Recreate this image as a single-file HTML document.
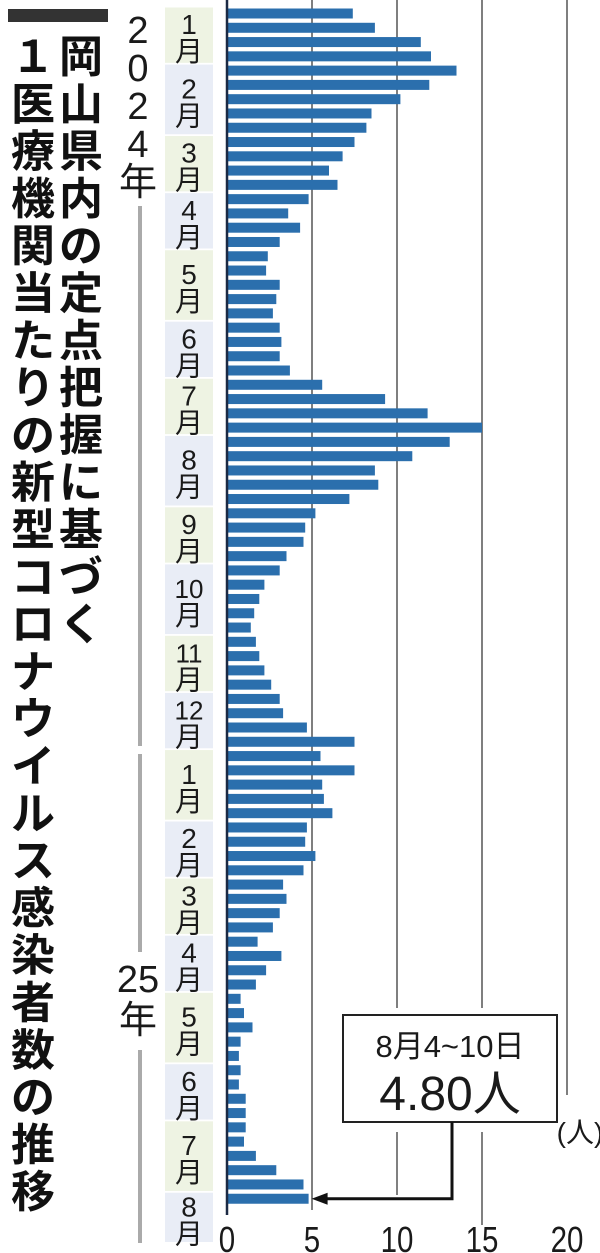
<!DOCTYPE html>
<html><head><meta charset="utf-8">
<style>
html,body{margin:0;padding:0;background:#fff;}
svg{display:block;}
text{font-family:"Liberation Sans","Noto Sans CJK JP",sans-serif;fill:#1a1a1a;}
.title{font-family:"Liberation Sans","Noto Sans CJK JP",sans-serif;font-weight:bold;font-size:44px;fill:#111;}
</style></head>
<body>
<svg id="chart" width="600" height="1253" viewBox="0 0 600 1253" xmlns="http://www.w3.org/2000/svg">
  <rect x="8" y="9" width="100" height="13" fill="#333"/>
  <g id="titleG"></g>
  <g id="yearG"></g>
  <g id="monthG"></g>
  <g id="gridG"></g>
  <g id="barG"></g>
  <g id="axisG"></g>
  <g id="calloutG"></g>
</svg>
<script>
const values2024 = [7.4,8.7,11.4,12.0,13.5,11.9,10.2,8.5,8.2,7.5,6.8,6.0,6.5,4.8,3.6,4.3,3.1,2.4,2.3,3.1,2.9,2.7,3.1,3.2,3.1,3.7,5.6,9.3,
 11.8,15.0,13.1,10.9,8.7,8.9,7.2,5.2,4.6,4.5,3.5,3.1,2.2,1.9,1.6,1.4,1.7,1.9,2.2,2.6,3.1,3.3,4.7,7.5];
const values2025 = [5.5,7.5,5.6,5.7,6.2,4.7,4.6,5.2,4.5,3.3,3.5,3.1,2.7,1.8,3.2,2.3,1.7,0.8,1.0,1.5,0.8,0.7,0.8,0.7,1.1,1.1,1.1,1.0,1.7,2.9,4.5,4.8];
const xTicks = [0,5,10,15,20];
const calloutLabel = "8月4~10日";
const calloutValue = "4.80人";

const NS = "http://www.w3.org/2000/svg";
const values = values2024.concat(values2025);
const X0 = 227, PX = 17, Y0 = 8.5, STEP = 14.28, BH = 10;
const xs = v => X0 + v * PX;
const yb = i => Y0 + i * STEP;
function mk(tag, attrs, parent, txt){
  const e = document.createElementNS(NS, tag);
  for (const k in attrs) e.setAttribute(k, attrs[k]);
  if (txt !== undefined) e.textContent = txt;
  parent.appendChild(e); return e;
}

// title
const tg = document.getElementById('titleG');
const col1 = "岡山県内の定点把握に基づく", col2 = "1医療機関当たりの新型コロナウイルス感染者数の推移";
[...col1].forEach((c,i)=>{ const t=mk('text',{x:81,y:72+i*47.3,'text-anchor':'middle','class':'title'},tg,c);
    });
[...col2].forEach((c,i)=>{ const t=mk('text',{x:33,y:72+i*47.3,'text-anchor':'middle','class':'title'},tg,c==='1'?'１':c);
    });

// year labels
const yg = document.getElementById('yearG');
["2","0","2","4","年"].forEach((c,i)=>{ const t=mk('text',{x:138,y:43+i*38,'text-anchor':'middle','font-size':38},yg,c);
    });
const l1=mk('line',{x1:140,y1:206,x2:140,y2:746,stroke:'#aaa','stroke-width':4},yg);
 
const l2=mk('line',{x1:140,y1:754,x2:140,y2:952,stroke:'#aaa','stroke-width':4},yg);
 
const l3=mk('line',{x1:140,y1:1050,x2:140,y2:1243,stroke:'#aaa','stroke-width':4},yg);
 
const t25=mk('text',{x:138,y:992,'text-anchor':'middle','font-size':38},yg,"25");
 
const t25b=mk('text',{x:138,y:1033,'text-anchor':'middle','font-size':38},yg,"年");
 

// months
const mg = document.getElementById('monthG');
const start = new Date(2024,0,1);
const groups = [];
values.forEach((v,i)=>{
  const d = new Date(start.getTime() + (i*7+3)*86400000);
  const key = d.getFullYear()+'-'+d.getMonth();
  if (!groups.length || groups[groups.length-1].key !== key) groups.push({key, m:d.getMonth()+1, a:i, b:i});
  else groups[groups.length-1].b = i;
});
groups.forEach((g,gi)=>{
  const top = yb(g.a) - 2;
  let bot = yb(g.b) + BH + 2.5;
  if (gi === groups.length-1) bot = 1243;
  const r = mk('rect',{x:165,y:top+1,width:48,height:bot-top-2,fill: gi%2===0 ? '#eef3e3' : '#e9edf6'},mg);
   
  const cy = (top+bot)/2;
  const n = mk('text',{x:189,y:cy-1,'text-anchor':'middle','font-size':g.m>9?26:28},mg,String(g.m));
   
  const m = mk('text',{x:189,y:cy+26,'text-anchor':'middle','font-size':28},mg,"月");
   
});

// grid
const gg = document.getElementById('gridG');
const gridEnds = {5:1210,10:1195,15:1225,20:1095};
xTicks.slice(1).forEach(v=>{
  if (v===10 || v===15){
    const a=mk('line',{x1:xs(v),y1:0,x2:xs(v),y2:1008,stroke:'#555','stroke-width':1.5},gg);
     
    const b=mk('line',{x1:xs(v),y1:1132,x2:xs(v),y2:gridEnds[v],stroke:'#555','stroke-width':1.5},gg);
     
  } else {
    const a=mk('line',{x1:xs(v),y1:0,x2:xs(v),y2:gridEnds[v],stroke:'#555','stroke-width':1.5},gg);
     
  }
});

// bars
const bg = document.getElementById('barG');
values.forEach((v,i)=>{
  const r = mk('rect',{x:X0,y:yb(i),width:v*PX,height:BH,fill:'#2b6fad'},bg);
   
});

// axis
const ag = document.getElementById('axisG');
const al = mk('line',{x1:X0,y1:0,x2:X0,y2:1215,stroke:'#1c2a44','stroke-width':2.5},ag);
 
xTicks.forEach(v=>{
  const t = mk('text',{x:xs(v),y:1252,'text-anchor':'middle','font-size':36,transform:`translate(${xs(v)},0) scale(0.82,1) translate(${-xs(v)},0)`},ag,String(v));
   
});
const unit = mk('text',{x:580,y:1142,'text-anchor':'middle','font-size':28},ag,"(人)");
 

// callout
const cg = document.getElementById('calloutG');
const lastI = values.length-1;
const ay = yb(lastI) + BH/2;
const box = mk('rect',{x:343,y:1015,width:214,height:107,fill:'#fff',stroke:'#222','stroke-width':2},cg);
 
const ct1 = mk('text',{x:450,y:1057,'text-anchor':'middle','font-size':31},cg,calloutLabel);
 
const ct2 = mk('text',{x:450,y:1110,'text-anchor':'middle','font-size':48},cg,calloutValue);
 
const tip = xs(values[lastI]) + 3;
const pl = mk('polyline',{points:`452,1122 452,${ay} ${tip+14},${ay}`,fill:'none',stroke:'#111','stroke-width':3},cg);
 
const ah = mk('polygon',{points:`${tip},${ay} ${tip+16},${ay-6} ${tip+16},${ay+6}`,fill:'#111'},cg);
 
</script>
</body></html>
